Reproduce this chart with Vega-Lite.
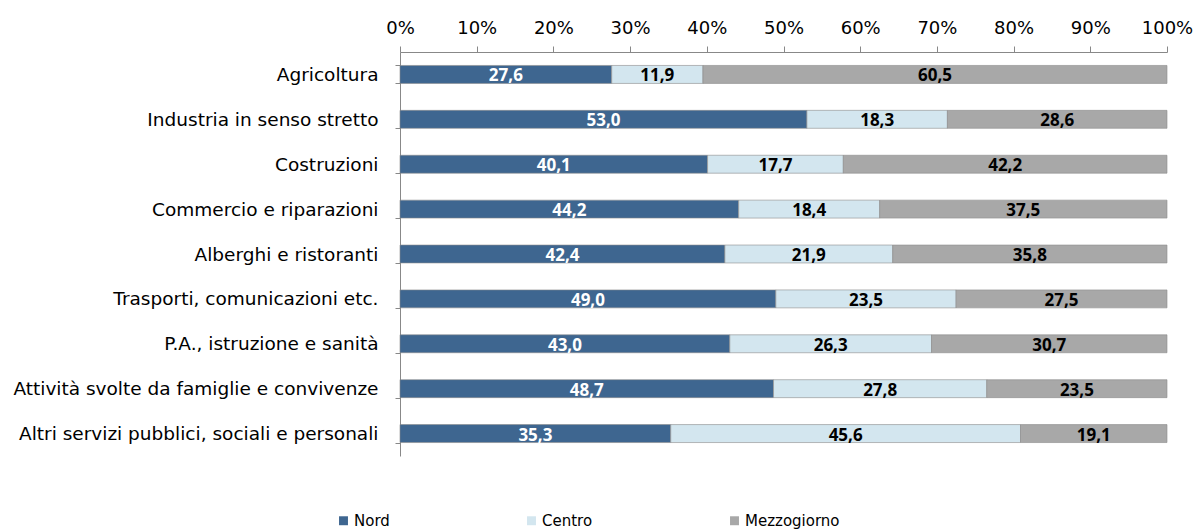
{
  "$schema": "https://vega.github.io/schema/vega-lite/v6.json",
  "width": 767,
  "height": 404,
  "autosize": {"type": "none"},
  "padding": {"left": 400, "top": 52, "right": 36, "bottom": 74},
  "config": {
    "view": {"stroke": null},
    "font": "Open Sans",
    "locale": {"number": {"decimal": ",", "thousands": ".", "grouping": [3], "currency": ["", " €"]}}
  },
  "data": {
    "values": [
      {"settore": "Agricoltura", "area": "Nord", "ord": 1, "valore": 27.6},
      {"settore": "Agricoltura", "area": "Centro", "ord": 2, "valore": 11.9},
      {"settore": "Agricoltura", "area": "Mezzogiorno", "ord": 3, "valore": 60.5},
      {"settore": "Industria in senso stretto", "area": "Nord", "ord": 1, "valore": 53.0},
      {"settore": "Industria in senso stretto", "area": "Centro", "ord": 2, "valore": 18.3},
      {"settore": "Industria in senso stretto", "area": "Mezzogiorno", "ord": 3, "valore": 28.6},
      {"settore": "Costruzioni", "area": "Nord", "ord": 1, "valore": 40.1},
      {"settore": "Costruzioni", "area": "Centro", "ord": 2, "valore": 17.7},
      {"settore": "Costruzioni", "area": "Mezzogiorno", "ord": 3, "valore": 42.2},
      {"settore": "Commercio e riparazioni", "area": "Nord", "ord": 1, "valore": 44.2},
      {"settore": "Commercio e riparazioni", "area": "Centro", "ord": 2, "valore": 18.4},
      {"settore": "Commercio e riparazioni", "area": "Mezzogiorno", "ord": 3, "valore": 37.5},
      {"settore": "Alberghi e ristoranti", "area": "Nord", "ord": 1, "valore": 42.4},
      {"settore": "Alberghi e ristoranti", "area": "Centro", "ord": 2, "valore": 21.9},
      {"settore": "Alberghi e ristoranti", "area": "Mezzogiorno", "ord": 3, "valore": 35.8},
      {"settore": "Trasporti, comunicazioni etc.", "area": "Nord", "ord": 1, "valore": 49.0},
      {"settore": "Trasporti, comunicazioni etc.", "area": "Centro", "ord": 2, "valore": 23.5},
      {"settore": "Trasporti, comunicazioni etc.", "area": "Mezzogiorno", "ord": 3, "valore": 27.5},
      {"settore": "P.A., istruzione e sanità", "area": "Nord", "ord": 1, "valore": 43.0},
      {"settore": "P.A., istruzione e sanità", "area": "Centro", "ord": 2, "valore": 26.3},
      {"settore": "P.A., istruzione e sanità", "area": "Mezzogiorno", "ord": 3, "valore": 30.7},
      {"settore": "Attività svolte da famiglie e convivenze", "area": "Nord", "ord": 1, "valore": 48.7},
      {"settore": "Attività svolte da famiglie e convivenze", "area": "Centro", "ord": 2, "valore": 27.8},
      {"settore": "Attività svolte da famiglie e convivenze", "area": "Mezzogiorno", "ord": 3, "valore": 23.5},
      {"settore": "Altri servizi pubblici, sociali e personali", "area": "Nord", "ord": 1, "valore": 35.3},
      {"settore": "Altri servizi pubblici, sociali e personali", "area": "Centro", "ord": 2, "valore": 45.6},
      {"settore": "Altri servizi pubblici, sociali e personali", "area": "Mezzogiorno", "ord": 3, "valore": 19.1}
    ]
  },
  "transform": [
    {"stack": "valore", "groupby": ["settore"], "sort": [{"field": "ord", "order": "ascending"}], "offset": "normalize", "as": ["x0", "x1"]},
    {"calculate": "(datum.x0 + datum.x1) / 2", "as": "xm"}
  ],
  "encoding": {
    "y": {
      "field": "settore", "type": "nominal", "sort": null, "title": null,
      "scale": {"paddingInner": 0.6, "paddingOuter": 0.3},
      "axis": {
        "orient": "left", "tickBand": "extent", "tickSize": 5, "tickColor": "#888888",
        "domainColor": "#888888", "labelFont": "DejaVu Sans", "labelFontSize": 18.5, "labelColor": "#000000",
        "labelPadding": 17, "labelLimit": 420
      }
    }
  },
  "layer": [
    {
      "mark": {"type": "bar", "stroke": "#8c8c8c", "strokeWidth": 0.6},
      "encoding": {
        "x": {
          "field": "x0", "type": "quantitative", "title": null,
          "scale": {"domain": [0, 1]},
          "axis": {
            "orient": "top", "format": ".0%", "values": [0, 0.1, 0.2, 0.3, 0.4, 0.5, 0.6, 0.7, 0.8, 0.9, 1],
            "labelOverlap": false, "labelFlush": false, "grid": false, "tickSize": 6, "tickColor": "#888888", "domainColor": "#888888",
            "labelFont": "DejaVu Sans", "labelFontSize": 18, "labelColor": "#000000", "labelPadding": 9
          }
        },
        "x2": {"field": "x1"},
        "color": {
          "field": "area", "type": "nominal", "title": null,
          "scale": {"domain": ["Nord", "Centro", "Mezzogiorno"], "range": ["#3e6690", "#d3e6ef", "#a8a8a8"]},
          "legend": {
            "orient": "none", "legendX": -64, "legendY": 461, "direction": "horizontal",
            "columns": 3, "columnPadding": 134, "symbolType": "square", "symbolSize": 80,
            "symbolStrokeWidth": 0, "labelFont": "DejaVu Sans", "labelFontSize": 15, "labelColor": "#000000", "labelOffset": 3
          }
        }
      }
    },
    {
      "mark": {"type": "text", "fontSize": 17, "fontWeight": "bold", "baseline": "middle", "dy": 2},
      "encoding": {
        "x": {"field": "xm", "type": "quantitative"},
        "text": {"field": "valore", "type": "quantitative", "format": ".1f"},
        "color": {
          "condition": {"test": "datum.area === 'Nord'", "value": "#ffffff"},
          "value": "#000000"
        }
      }
    }
  ]
}
